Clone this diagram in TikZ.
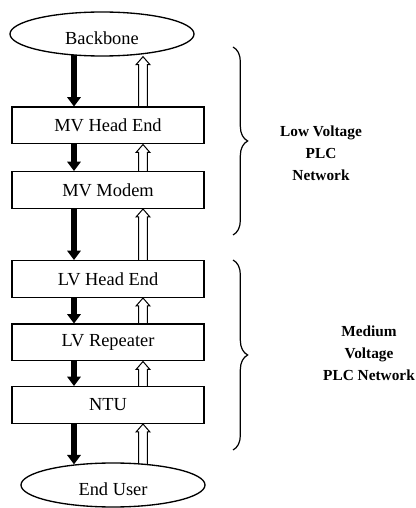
\documentclass[tikz,border=0pt]{standalone}
\usepackage{fontspec}
\setmainfont{Liberation Serif}
\usetikzlibrary{shapes.geometric,arrows.meta,positioning,calc,backgrounds,decorations.pathreplacing}

% open block arrow pointing up, from #1 (foot) to #2 (tip)
\newcommand{\hollowup}[2]{%
  \draw[line width=0.75pt,fill=white] let \p1=(#1), \p2=(#2) in
    (\x1-3.3pt,\y1) -- (\x1-3.3pt,\y2-6pt) -- (\x1-5.2pt,\y2-6pt) -- (\x1,\y2)
    -- (\x1+5.2pt,\y2-6pt) -- (\x1+3.3pt,\y2-6pt) -- (\x1+3.3pt,\y1);}

\begin{document}
\begin{tikzpicture}[x=0.75pt,y=0.75pt,
  every node/.style={font=\fontsize{13.8}{16}\selectfont},
  box/.style={draw,fill=white,line width=1pt,minimum width=144pt,minimum height=27.5pt,inner sep=0pt},
  oval/.style={ellipse,draw,fill=white,line width=1pt,minimum width=138pt,minimum height=33pt,inner sep=0pt,text height=16pt,text depth=0pt},
  down/.style={line width=5pt,-{Triangle[width=10pt,length=7pt]}},
  brace/.style={decorate,decoration={brace,amplitude=11pt},line width=0.9pt},
  lbl/.style={align=center,font=\bfseries\fontsize{11.5}{16.5}\selectfont}]
  \useasboundingbox (0,0) rectangle (416,508);

  \node[oval] (bb) at (102,474) {Backbone};
  \node[box] (mvhe) at (108,382.5) {MV Head End};
  \node[box] (mvmod) at (108,318) {MV Modem};
  \node[box] (lvhe) at (108,229) {LV Head End};
  \node[box] (lvrep) at (108,165.5) {LV Repeater};
  \node[box] (ntu) at (108,103) {NTU};
  \node[oval] (eu) at (113,23) {End User};

  \coordinate (dn) at (74,0);
  \coordinate (up) at (143,0);

  \begin{scope}[on background layer]
    \draw[down] (bb.center -| dn) -- (mvhe.north -| dn);
    \draw[down] (mvhe.south -| dn) -- (mvmod.north -| dn);
    \draw[down] (mvmod.south -| dn) -- (lvhe.north -| dn);
    \draw[down] (lvhe.south -| dn) -- (lvrep.north -| dn);
    \draw[down] (lvrep.south -| dn) -- (ntu.north -| dn);
    \draw[down,shorten >=-1.5pt] (ntu.south -| dn) -- (eu.north -| dn);
    \hollowup{mvhe.north -| up}{bb.south -| up}
    \hollowup{mvmod.north -| up}{mvhe.south -| up}
    \hollowup{lvhe.north -| up}{mvmod.south -| up}
    \hollowup{lvrep.north -| up}{lvhe.south -| up}
    \hollowup{ntu.north -| up}{lvrep.south -| up}
    \hollowup{eu.center -| up}{ntu.south -| up}
  \end{scope}

  % network spans
  \draw[brace] (233,461) -- (233,273);
  \draw[brace] (233,248) -- (233,58);
  \node[lbl] (lowlbl) at (321,355) {Low Voltage\\PLC\\Network};
  \node[lbl] (medlbl) at (369,155) {Medium\\Voltage\\PLC Network};
\end{tikzpicture}
\end{document}
